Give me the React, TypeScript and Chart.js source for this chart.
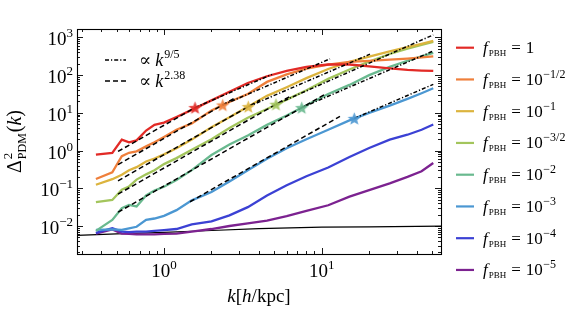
import React, { useEffect, useRef } from 'react';
import { Chart, registerables } from 'chart.js';
Chart.register(...registerables);

// ---------- data ----------
const K = [0.37, 0.47, 0.54, 0.6, 0.67, 0.77, 0.87, 1.0, 1.2, 1.5, 2, 2.6, 3.4, 4.5, 6, 8, 11, 15, 20, 27, 35, 43, 51];

const F_1 = [0.78, 0.87, 1.95, 1.66, 1.86, 3.39, 4.79, 5.5, 7.76, 12.0, 21.4, 36.3, 61.7, 93.3, 129, 166, 191, 191, 170, 151, 138, 132, 129];
const F_M05 = [0.176, 0.263, 0.708, 0.871, 0.955, 1.29, 1.66, 2.29, 3.55, 5.25, 11.5, 19.5, 31.6, 66.1, 105, 148, 191, 224, 240, 257, 275, 295, 316];
const F_M1 = [0.124, 0.174, 0.229, 0.302, 0.363, 0.513, 0.617, 0.794, 1.15, 1.95, 4.17, 7.59, 14.5, 28.2, 47.9, 83.2, 145, 224, 309, 427, 550, 676, 813];
const F_M15 = [0.0427, 0.049, 0.0912, 0.112, 0.17, 0.234, 0.302, 0.437, 0.631, 1.05, 2.0, 3.98, 7.41, 12.6, 22.4, 39.8, 79.4, 141, 229, 363, 501, 631, 759];
const F_M2 = [0.00741, 0.0145, 0.0295, 0.0363, 0.0331, 0.0646, 0.0871, 0.11, 0.166, 0.302, 0.759, 1.45, 2.51, 4.79, 8.51, 15.8, 31.6, 55, 100, 166, 240, 316, 389];
const F_M3 = [0.00794, 0.00813, 0.00794, 0.00871, 0.00955, 0.0145, 0.0158, 0.0186, 0.0263, 0.0479, 0.0794, 0.151, 0.302, 0.603, 1.15, 2.0, 3.55, 6.31, 10.0, 15.5, 23.4, 33.1, 44.7];
const F_M4 = [0.00661, 0.00871, 0.00708, 0.00692, 0.00708, 0.00708, 0.00741, 0.00776, 0.00832, 0.011, 0.0132, 0.0191, 0.0316, 0.0646, 0.12, 0.209, 0.355, 0.676, 1.17, 1.95, 2.63, 3.55, 4.9];
const F_M5 = [0.00631, 0.00813, 0.00631, 0.00617, 0.00603, 0.00603, 0.00603, 0.00617, 0.00631, 0.00708, 0.00832, 0.01, 0.0117, 0.0138, 0.0182, 0.0251, 0.0355, 0.0603, 0.0891, 0.135, 0.2, 0.282, 0.468];

const SERIES = [F_1, F_M05, F_M1, F_M15, F_M2, F_M3, F_M4, F_M5];
const LEGEND_EXP = ['', '\u22121/2', '\u22121', '\u22123/2', '\u22122', '\u22123', '\u22124', '\u22125'];
const COLORS = ['#e22a26', '#ef7f3b', '#dcb43e', '#a3c55c', '#69b98f', '#4b97d2', '#3b41d4', '#7c2290'];

// reference (black) curve
const REF_K = [0.25, 0.5, 1, 2, 4, 10, 20, 60];
const REF_V = [0.0055, 0.0062, 0.0068, 0.0076, 0.0085, 0.0093, 0.0095, 0.01];

// fits  ∝ k^2.38 (dashed): [kStart, kEnd], [vStart, vEnd]
const FIT238_K = [[0.511, 1.573], [0.511, 2.82], [0.511, 4.06], [0.511, 6.3], [0.511, 10.5], [1.462, 13.06]];
const FIT238_V = [[0.946, 13.76], [0.424, 24.8], [0.158, 21.9], [0.0697, 27.4], [0.0232, 30.9], [0.0439, 8.07]];
// fits  ∝ k^(9/5) (dash-dot)
const FIT95_K = [[1.573, 4.84], [2.356, 11.29], [3.424, 20.24], [5.13, 51.0], [7.47, 51.0], [16.1, 51.0]];
const FIT95_V = [[13.76, 104.4], [16.14, 270], [14.64, 359], [16.86, 1166], [13.76, 436], [7.13, 56.9]];

// transition stars
const STAR_K = [1.573, 2.356, 3.424, 5.13, 7.47, 16.1];
const STAR_V = [13.76, 16.14, 14.64, 16.86, 13.76, 7.13];

const X_MIN = 0.2807, X_MAX = 57.1;
const Y_MIN = 0.00181, Y_MAX = 1670;
const X_TICK_EXP = [0, 1];
const Y_TICK_EXP = [-2, -1, 0, 1, 2, 3];

const FONT = '"Liberation Serif", "DejaVu Serif", serif';

type Seg = { t: string; s: number; dy?: number; it?: boolean; dx?: number };

function segWidth(ctx: CanvasRenderingContext2D, segs: Seg[]) {
  let w = 0;
  for (const g of segs) {
    ctx.font = `${g.it ? 'italic ' : ''}${g.s}px ${FONT}`;
    w += ctx.measureText(g.t).width + (g.dx || 0);
  }
  return w;
}
function drawSegs(ctx: CanvasRenderingContext2D, segs: Seg[], x: number, y: number, align: 'left' | 'center' | 'right') {
  const w = segWidth(ctx, segs);
  let cx = align === 'left' ? x : align === 'center' ? x - w / 2 : x - w;
  ctx.textAlign = 'left';
  ctx.textBaseline = 'alphabetic';
  for (const g of segs) {
    ctx.font = `${g.it ? 'italic ' : ''}${g.s}px ${FONT}`;
    cx += g.dx || 0;
    ctx.fillText(g.t, cx, y + (g.dy || 0));
    cx += ctx.measureText(g.t).width;
  }
}

function makeStar(color: string) {
  const size = 15;
  const c = document.createElement('canvas');
  c.width = size; c.height = size;
  const g = c.getContext('2d')!;
  const R = 7, r = 3, cx = size / 2, cy = size / 2 + 0.7;
  g.beginPath();
  for (let i = 0; i < 10; i++) {
    const rad = i % 2 === 0 ? R : r;
    const a = -Math.PI / 2 + (i * Math.PI) / 5;
    const px = cx + rad * Math.cos(a), py = cy + rad * Math.sin(a);
    if (i === 0) g.moveTo(px, py); else g.lineTo(px, py);
  }
  g.closePath();
  g.fillStyle = color;
  g.globalAlpha = 0.9;
  g.fill();
  return c;
}

const decorPlugin = {
  id: 'decor',
  afterDraw(chart: any) {
    const { ctx, chartArea: a, scales } = chart;
    const xs = scales.x, ys = scales.y;
    ctx.save();
    ctx.strokeStyle = '#000';
    ctx.fillStyle = '#000';
    ctx.lineWidth = 1.1;
    ctx.strokeRect(a.left + 0.5, a.top + 0.5, a.right - a.left, a.bottom - a.top);
    const ln = (x1: number, y1: number, x2: number, y2: number) => {
      ctx.beginPath(); ctx.moveTo(x1, y1); ctx.lineTo(x2, y2); ctx.stroke();
    };
    ctx.lineWidth = 0.9;
    for (let e = -3; e <= 3; e++) for (let m = 1; m <= 9; m++) {
      const v = m * Math.pow(10, e);
      if (v < Y_MIN || v > Y_MAX) continue;
      const y = Math.round(ys.getPixelForValue(v)) + 0.5;
      const L = m === 1 ? 6 : 3;
      ln(a.left, y, a.left + L, y);
      ln(a.right, y, a.right - L, y);
    }
    for (let e = -1; e <= 1; e++) for (let m = 1; m <= 9; m++) {
      const v = m * Math.pow(10, e);
      if (v < X_MIN || v > X_MAX) continue;
      const x = Math.round(xs.getPixelForValue(v)) + 0.5;
      const L = m === 1 ? 6 : 3;
      ln(x, a.bottom, x, a.bottom - L);
      ln(x, a.top, x, a.top + L);
    }
    // tick labels
    for (const e of Y_TICK_EXP) {
      const y = ys.getPixelForValue(Math.pow(10, e));
      const es = e < 0 ? '\u2212' + (-e) : String(e);
      drawSegs(ctx, [{ t: '10', s: 19 }, { t: es, s: 13, dy: -8 }], a.left - 4, y + 8, 'right');
    }
    for (const e of X_TICK_EXP) {
      const x = xs.getPixelForValue(Math.pow(10, e));
      drawSegs(ctx, [{ t: '10', s: 19 }, { t: String(e), s: 13, dy: -8 }], x, a.bottom + 23, 'center');
    }
    // x title
    drawSegs(ctx, [{ t: 'k', s: 19, it: true }, { t: '[', s: 19 }, { t: 'h', s: 19, it: true }, { t: '/kpc]', s: 19 }],
      (a.left + a.right) / 2, 302, 'center');
    // y title (rotated)
    ctx.save();
    ctx.translate(21, (a.top + a.bottom) / 2);
    ctx.rotate(-Math.PI / 2);
    {
      ctx.font = `20px ${FONT}`;
      const wD = ctx.measureText('\u0394').width;
      ctx.font = `12px ${FONT}`;
      const wSub = ctx.measureText('PDM').width;
      ctx.font = `20px ${FONT}`;
      const wRest = ctx.measureText('(').width + ctx.measureText(')').width;
      ctx.font = `italic 20px ${FONT}`;
      const wk = ctx.measureText('k').width;
      const total = wD + wSub + 2 + wRest + wk;
      let cx = -total / 2;
      ctx.textAlign = 'left'; ctx.textBaseline = 'alphabetic';
      ctx.font = `20px ${FONT}`; ctx.fillText('\u0394', cx, 0); cx += wD + 1;
      ctx.font = `13px ${FONT}`; ctx.fillText('2', cx, -9);
      ctx.font = `12px ${FONT}`; ctx.fillText('PDM', cx, 5); cx += wSub + 1;
      ctx.font = `20px ${FONT}`; ctx.fillText('(', cx, 0); cx += ctx.measureText('(').width;
      ctx.font = `italic 20px ${FONT}`; ctx.fillText('k', cx, 0); cx += wk;
      ctx.font = `20px ${FONT}`; ctx.fillText(')', cx, 0);
    }
    ctx.restore();
    // annotation
    ctx.lineWidth = 1.5;
    ctx.setLineDash([4, 2, 1.2, 2]);
    ln(105, 60, 126, 60);
    ctx.setLineDash([5, 3]);
    ln(105, 81, 126, 81);
    ctx.setLineDash([]);
    drawSegs(ctx, [{ t: '\u221d', s: 18 }, { t: 'k', s: 18, it: true, dx: 4 }, { t: '9/5', s: 12, dy: -8, dx: 1 }], 139, 66, 'left');
    drawSegs(ctx, [{ t: '\u221d', s: 18 }, { t: 'k', s: 18, it: true, dx: 4 }, { t: '2.38', s: 12, dy: -8, dx: 1 }], 139, 87, 'left');
    // legend
    const LEG_Y0 = 47.7, LEG_DY = 31.75;
    LEGEND_EXP.forEach((ex, i) => {
      const y = LEG_Y0 + i * LEG_DY;
      ctx.strokeStyle = COLORS[i];
      ctx.lineWidth = 2.2;
      ln(456, y, 474, y);
      ctx.fillStyle = '#000';
      const segs: Seg[] = [
        { t: 'f', s: 17, it: true },
        { t: 'PBH', s: 9, dy: 3, dx: 1 },
        { t: '=', s: 17, dx: 5 },
      ];
      if (ex === '') segs.push({ t: '1', s: 17, dx: 5 });
      else { segs.push({ t: '10', s: 17, dx: 5 }); segs.push({ t: ex, s: 12, dy: -7, dx: 0.5 }); }
      drawSegs(ctx, segs, 483, y + 5.5, 'left');
    });
    ctx.restore();
  },
};

export default function App() {
  const ref = useRef<HTMLCanvasElement | null>(null);
  useEffect(() => {
    const canvas = ref.current!;
    const datasets: any[] = [];
    // stars on top
    datasets.push({
      data: STAR_K.map((k, i) => ({ x: k, y: STAR_V[i] })),
      showLine: false,
      pointStyle: STAR_K.map((_, i) => makeStar(COLORS[i])),
      pointRadius: 7,
      order: 0,
    });
    FIT238_K.forEach((ks, i) => {
      datasets.push({
        data: ks.map((k, j) => ({ x: k, y: FIT238_V[i][j] })),
        borderColor: '#000', borderWidth: 1.5, borderDash: [5, 3], pointRadius: 0, order: 1,
      });
    });
    FIT95_K.forEach((ks, i) => {
      datasets.push({
        data: ks.map((k, j) => ({ x: k, y: FIT95_V[i][j] })),
        borderColor: '#000', borderWidth: 1.5, borderDash: [4, 2, 1.2, 2], pointRadius: 0, order: 1,
      });
    });
    SERIES.forEach((vals, i) => {
      datasets.push({
        data: K.map((k, j) => ({ x: k, y: vals[j] })),
        borderColor: COLORS[i], borderWidth: 2.3, pointRadius: 0, order: 2 + i * 0.01,
      });
    });
    datasets.push({
      data: REF_K.map((k, j) => ({ x: k, y: REF_V[j] })),
      borderColor: '#000', borderWidth: 1.2, pointRadius: 0, order: 3,
    });
    const chart = new Chart(canvas, {
      type: 'line',
      data: { datasets },
      options: {
        animation: false,
        responsive: false,
        devicePixelRatio: 1,
        layout: { padding: { left: 77, top: 29, right: 140, bottom: 65 } },
        plugins: { legend: { display: false }, tooltip: { enabled: false } },
        elements: { line: { tension: 0 } },
        scales: {
          x: { type: 'logarithmic', min: X_MIN, max: X_MAX, display: false },
          y: { type: 'logarithmic', min: Y_MIN, max: Y_MAX, display: false },
        },
      },
      plugins: [decorPlugin],
    } as any);
    return () => chart.destroy();
  }, []);
  return (
    <div style={{ position: 'absolute', left: 0, top: 0, width: 581, height: 319, background: '#fff' }}>
      <canvas ref={ref} width={581} height={319} style={{ display: 'block' }} />
    </div>
  );
}
